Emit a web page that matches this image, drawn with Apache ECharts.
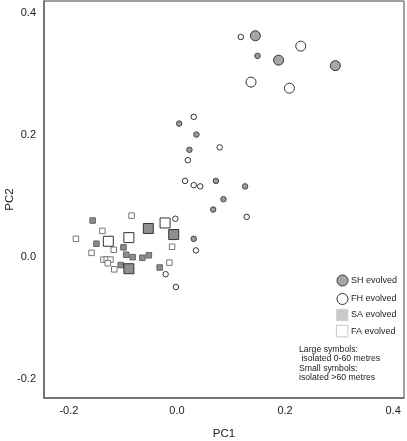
<!DOCTYPE html>
<html>
<head>
<meta charset="utf-8">
<script src="https://cdn.jsdelivr.net/npm/echarts@6/dist/echarts.min.js"></script>
<style>
html,body{margin:0;padding:0;background:#fff;}
#c{width:407px;height:441px;}
</style>
</head>
<body>
<div id="c"></div>
<script>
// ---- data (PC1, PC2) ----
const shLarge = [[0.145,0.362],[0.188,0.322],[0.293,0.313]];
const shSmall = [[0.149,0.329],[0.004,0.218],[0.036,0.200],[0.023,0.175],[0.072,0.124],
                 [0.126,0.115],[0.086,0.094],[0.067,0.077],[0.031,0.029]];
const fhLarge = [[0.229,0.345],[0.137,0.286],[0.208,0.276]];
const fhSmall = [[0.118,0.360],[0.031,0.229],[0.079,0.179],[0.020,0.158],[0.015,0.124],
                 [0.031,0.117],[0.043,0.115],[0.129,0.065],[-0.003,0.062],[0.035,0.010],
                 [-0.021,-0.029],[-0.002,-0.050]];
const saLarge = [[-0.053,0.046],[-0.006,0.036],[-0.089,-0.020]];
const saSmall = [[-0.156,0.059],[-0.149,0.021],[-0.099,0.015],[-0.094,0.003],[-0.082,-0.001],
                 [-0.064,-0.002],[-0.052,0.002],[-0.104,-0.014],[-0.032,-0.018]];
const faLarge = [[-0.127,0.025],[-0.089,0.031],[-0.022,0.055]];
const faSmall = [[-0.084,0.067],[-0.138,0.042],[-0.187,0.029],[-0.117,0.011],[-0.158,0.006],
                 [-0.136,-0.005],[-0.130,-0.005],[-0.123,-0.005],[-0.128,-0.011],[-0.116,-0.021],
                 [-0.009,0.016],[-0.014,-0.010]];
const xTicks = [-0.2, 0.0, 0.2, 0.4];
const yTicks = [-0.2, 0.0, 0.2, 0.4];
const legendNames = ['SH evolved','FH evolved','SA evolved','FA evolved'];
const noteLines = ['Large symbols:',' isolated 0-60 metres','Small symbols:','isolated >60 metres'];

const FONT = 'Liberation Sans, Arial, Helvetica, sans-serif';
const chart = echarts.init(document.getElementById('c'), null, {renderer:'canvas'});

function sc(name, data, symbol, size, fill, border, z){
  return {type:'scatter', name:name, data:data, symbol:symbol, symbolSize:size,
    itemStyle:{color:fill, borderColor:border, borderWidth:1, opacity:1},
    emphasis:{disabled:true}, z:z, animation:false};
}
const fmt = v => Number(v).toFixed(1).replace('-0.0','0.0');

chart.setOption({
  animation:false,
  backgroundColor:'#fff',
  grid:{left:44, right:3, top:1, bottom:43, containLabel:false, outerBoundsMode:'none',
        show:true, borderColor:'#444', borderWidth:1},
  xAxis:{type:'value', min:-0.246, max:0.420,
    name:'PC1', nameLocation:'middle', nameGap:30, nameMoveOverlap:false,
    nameTextStyle:{fontFamily:FONT, fontSize:11.5, color:'#222'},
    axisLine:{show:true, onZero:false, lineStyle:{color:'#666', width:1.5}},
    axisTick:{show:false}, splitLine:{show:false},
    axisLabel:{customValues:xTicks, formatter:fmt,
      fontFamily:FONT, fontSize:11, color:'#222', margin:7}},
  yAxis:{type:'value', min:-0.232, max:0.419,
    name:'PC2', nameLocation:'middle', nameGap:34, nameRotate:90, nameMoveOverlap:false,
    nameTextStyle:{fontFamily:FONT, fontSize:11.5, color:'#222', verticalAlign:'middle'},
    axisLine:{show:true, onZero:false, lineStyle:{color:'#666', width:1.5}},
    axisTick:{show:false}, splitLine:{show:false},
    axisLabel:{customValues:yTicks, formatter:fmt,
      fontFamily:FONT, fontSize:11, color:'#222', margin:8}},
  legend:[
    {orient:'vertical', left:331.5, top:269.5, itemWidth:11, itemHeight:11, itemGap:6.5,
     selectedMode:false, textStyle:{fontFamily:FONT, fontSize:9, color:'#222', padding:[0,0,0,-2]},
     data:[
       {name:legendNames[0], icon:'circle', itemStyle:{color:'#a6a6a6', borderColor:'#333', borderWidth:1}},
       {name:legendNames[1], icon:'circle', itemStyle:{color:'#fff', borderColor:'#333', borderWidth:1}}
     ]},
    {orient:'vertical', left:331, top:304, itemWidth:11.5, itemHeight:11.5, itemGap:4,
     selectedMode:false, textStyle:{fontFamily:FONT, fontSize:9, color:'#222', padding:[0,0,0,-2]},
     data:[
       {name:legendNames[2], icon:'rect', itemStyle:{color:'#c9c9c9', borderColor:'#c9c9c9', borderWidth:0.5}},
       {name:legendNames[3], icon:'rect', itemStyle:{color:'#fff', borderColor:'#bbb', borderWidth:0.8}}
     ]}
  ],
  graphic: noteLines.map((t,i)=>({
    type:'text', left: 299, top: 345 + i*9.5,
    style:{text:t, fontFamily:FONT, fontSize:8.7, fill:'#222'}
  })),
  series:[
    sc(legendNames[3], faSmall, 'rect', 5.5, '#fff', '#777', 2),
    sc(legendNames[2], saSmall, 'rect', 5.5, '#8c8c8c', '#666', 2),
    sc(legendNames[3], faLarge, 'rect', 10, '#fff', '#333', 3),
    sc(legendNames[2], saLarge, 'rect', 10, '#8f8f8f', '#333', 3),
    sc(legendNames[1], fhSmall, 'circle', 5.5, '#fff', '#333', 4),
    sc(legendNames[0], shSmall, 'circle', 5.5, '#9a9a9a', '#444', 4),
    sc(legendNames[1], fhLarge, 'circle', 10, '#fff', '#333', 5),
    sc(legendNames[0], shLarge, 'circle', 10, '#a6a6a6', '#333', 5)
  ]
});
</script>
</body>
</html>
